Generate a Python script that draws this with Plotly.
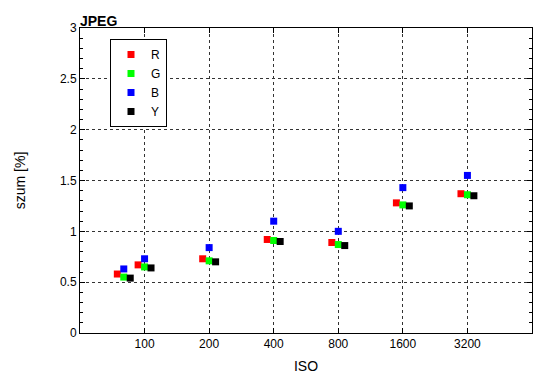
import plotly.graph_objects as go

iso = [80, 100, 200, 400, 800, 1600, 3200]
tick_vals = [100, 200, 400, 800, 1600, 3200]
tick_text = ["100", "200", "400", "800", "1600", "3200"]
R = [0.58, 0.67, 0.73, 0.92, 0.89, 1.28, 1.37]
G = [0.55, 0.65, 0.71, 0.91, 0.87, 1.26, 1.36]
B = [0.63, 0.73, 0.84, 1.10, 1.00, 1.43, 1.55]
Y = [0.54, 0.64, 0.70, 0.90, 0.86, 1.25, 1.35]

series = [("R", R, "#ff0000", 2 ** -0.1),
          ("G", G, "#00ff00", 1.0),
          ("B", B, "#0000ff", 1.0),
          ("Y", Y, "#000000", 2 ** 0.1)]

fig = go.Figure()
for name, vals, color, shift in series:
    fig.add_trace(go.Scatter(
        x=[v * shift for v in iso], y=vals, mode="markers", name=name,
        marker=dict(symbol="square", size=7, color=color, line=dict(width=0)),
    ))

# page body adds an 8px offset, so the figure is 542x381
W, H = 542, 381
font = "Liberation Sans, Arial, sans-serif"
fig.update_layout(
    width=W, height=H,
    margin=dict(l=72, r=18, t=20, b=56),
    paper_bgcolor="white", plot_bgcolor="white",
    font=dict(family=font, size=12, color="black"),
    title=dict(text="<b>JPEG</b>", x=72 / W, xanchor="left", y=1 - 13.5 / H,
               yanchor="middle", font=dict(size=14, family=font)),
    legend=dict(x=(110 - 80) / 452, xanchor="left", y=1 - (39 - 28) / 305, yanchor="top",
                bordercolor="black", borderwidth=1, bgcolor="white",
                font=dict(size=12), tracegroupgap=0, itemwidth=30),
    showlegend=True,
)
fig.update_xaxes(
    type="log", range=[1.69897, 3.80618], automargin=False,
    tickvals=tick_vals, ticktext=tick_text,
    showgrid=True, gridcolor="#333333", griddash="dot", gridwidth=1,
    showline=True, linecolor="black", linewidth=1, mirror="ticks",
    ticks="inside", ticklen=5, tickcolor="black",
    title=dict(text="ISO", standoff=10), zeroline=False,
)
fig.update_yaxes(
    range=[0, 3], automargin=False, tickvals=[0, 0.5, 1, 1.5, 2, 2.5, 3],
    ticktext=["0", "0.5", "1", "1.5", "2", "2.5", "3"],
    showgrid=True, gridcolor="#333333", griddash="dot", gridwidth=1,
    showline=True, linecolor="black", linewidth=1, mirror="ticks",
    ticks="inside", ticklen=5, tickcolor="black",
    minor=dict(dtick=0.1, ticks="inside", ticklen=3, tickcolor="black", showgrid=False),
    title=dict(text="szum [%]", standoff=31), zeroline=False,
)
fig.write_html("out.html")
